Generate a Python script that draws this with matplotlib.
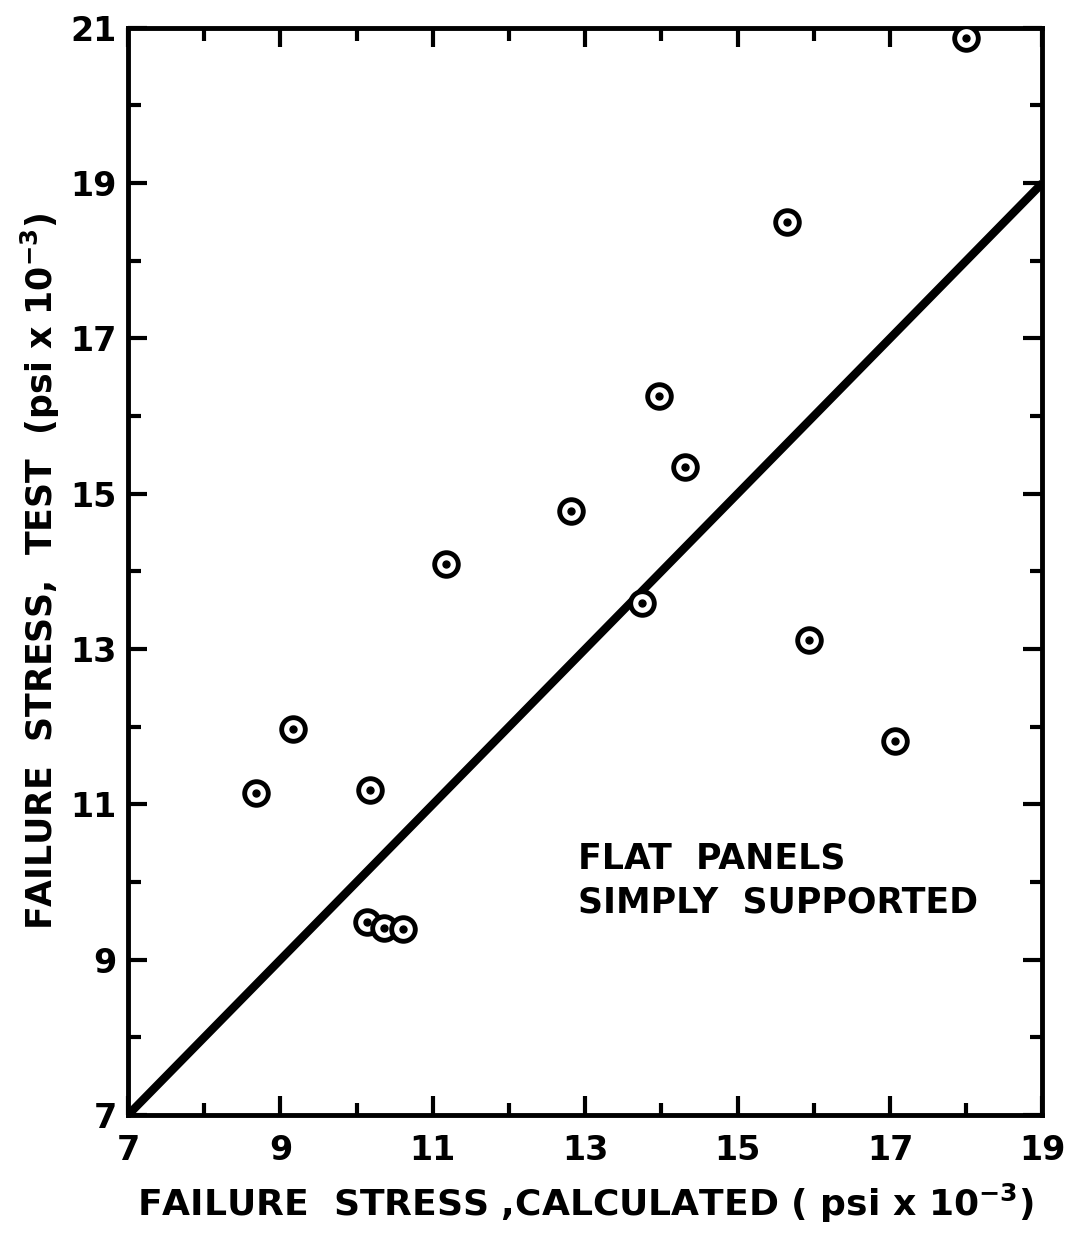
import matplotlib
matplotlib.use("Agg")
import matplotlib.pyplot as plt
from matplotlib.ticker import MultipleLocator

# values
calc = [8.68, 9.17, 10.18, 11.17, 12.81, 13.75, 13.97, 14.31, 15.65, 15.94, 17.07, 18.0,
        10.14, 10.36, 10.61]
test = [11.15, 11.97, 11.18, 14.09, 14.78, 13.59, 16.26, 15.34, 18.5, 13.12, 11.82, 20.87,
        9.49, 9.41, 9.39]
line_x = [7, 19]
line_y = [7, 19]
x_ticks = [7, 9, 11, 13, 15, 17, 19]
y_ticks = [7, 9, 11, 13, 15, 17, 19, 21]

plt.rcParams["font.family"] = ["DejaVu Sans"]
fig = plt.figure(figsize=(10.72, 12.37), dpi=100)
ax = fig.add_axes([0.1194, 0.0986, 0.853, 0.879])

ax.plot(line_x, line_y, color="black", lw=6, solid_capstyle="butt", zorder=2)
ax.plot(calc, test, "o", ms=17, mfc="white", mec="black", mew=3.5, zorder=3)
ax.plot(calc, test, "o", ms=5, color="black", zorder=4)

ax.set_xlim(7, 19)
ax.set_ylim(7, 21)
ax.set_xticks(x_ticks)
ax.set_yticks(y_ticks)
ax.xaxis.set_minor_locator(MultipleLocator(1))
ax.yaxis.set_minor_locator(MultipleLocator(1))
ax.tick_params(which="both", direction="in", top=True, right=True, width=3, color="black")
ax.tick_params(which="major", length=14, labelsize=24)
ax.tick_params(axis="x", which="major", pad=14)
ax.tick_params(axis="y", which="major", pad=8)
ax.tick_params(which="minor", length=9)
for s in ax.spines.values():
    s.set_linewidth(3.5)
for lab in ax.get_xticklabels() + ax.get_yticklabels():
    lab.set_fontweight("bold")

ax.text(12.9, 10.02, "FLAT  PANELS\nSIMPLY  SUPPORTED", fontsize=25, fontweight="bold",
        ha="left", va="center", linespacing=1.35)

ax.set_xlabel(r"FAILURE  STRESS ,CALCULATED ( psi x 10$^{\mathbf{-3}}$)", fontsize=26,
              fontweight="bold", labelpad=10)
ax.set_ylabel(r"FAILURE  STRESS,  TEST  (psi x 10$^{\mathbf{-3}}$)", fontsize=25,
              fontweight="bold")
ax.yaxis.set_label_coords(-0.072, 0.5)

fig.savefig("out.png", dpi=100)
